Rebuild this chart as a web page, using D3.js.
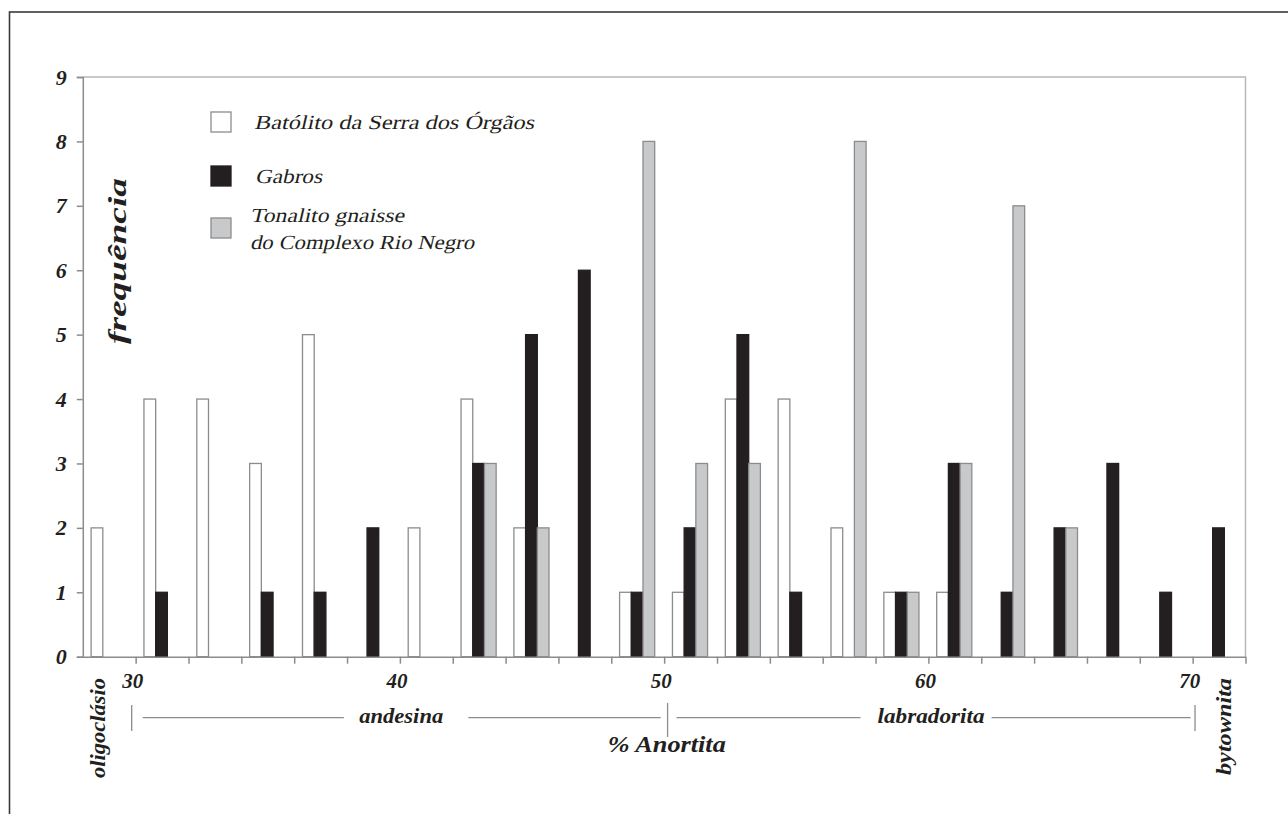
<!DOCTYPE html>
<html lang="pt">
<head>
<meta charset="utf-8">
<title>Frequência × % Anortita</title>
<script src="https://cdn.jsdelivr.net/npm/d3@7"></script>
<style>
  html, body { margin: 0; padding: 0; background: #fff; }
  svg { display: block; }
  text { font-family: "Liberation Serif", "DejaVu Serif", serif; fill: #231f20; }
</style>
</head>
<body>
<div id="chart"></div>
<script>
// Bin centres (% anortita, bins 2% wide)
const binCenters = [29, 31, 33, 35, 37, 39, 41, 43, 45, 47, 49, 51, 53, 55, 57, 59, 61, 63, 65, 67, 69, 71];

// Frequencies per series, one value per bin
const batolito  = [2, 4, 4, 3, 5, 0, 2, 4, 2, 0, 1, 1, 4, 4, 2, 1, 1, 0, 0, 0, 0, 0];
const gabros    = [0, 1, 0, 1, 1, 2, 0, 3, 5, 6, 1, 2, 5, 1, 0, 1, 3, 1, 2, 3, 1, 2];
const tonalito  = [0, 0, 0, 0, 0, 0, 0, 3, 2, 0, 8, 3, 3, 0, 8, 1, 3, 7, 2, 0, 0, 0];

const seriesKeys   = ['batolito', 'gabros', 'tonalito'];
const seriesLabels = [['Batólito da Serra dos Órgãos'], ['Gabros'], ['Tonalito gnaisse', 'do Complexo Rio Negro']];

// Axis ticks
const yTicks      = [0, 1, 2, 3, 4, 5, 6, 7, 8, 9];
const xTicks      = [30, 32, 34, 36, 38, 40, 42, 44, 46, 48, 50, 52, 54, 56, 58, 60, 62, 64, 66, 68, 70, 72];
const xTickLabels = [30, 40, 50, 60, 70];

// Plagioclase ranges under the axis
const rangeMarks    = [29.85, 50.13, 70.09];
const rangeSegments = [[30.27, 37.88], [42.59, 49.87], [50.47, 57.43], [62.39, 69.92]];
const rangeNames    = [{ name: 'andesina', at: 40.05 }, { name: 'labradorita', at: 60.1 }];

const config = {
  width: 1288,
  height: 814,
  xRange: [82.8, 1245.5],
  yRange: [656.7, 77],
  barOffset: 8.3,
  barWidth: 11.7,
  axisColor: '#8c8c8c',
  colors: { batolito: '#ffffff', gabros: '#231f20', tonalito: '#c8c9cb' },
  strokes: { batolito: '#8c8c8c', gabros: '#231f20', tonalito: '#8c8c8c' },
  // measured widths of the legend lines in the reference
  legendWidths: [[280], [67], [154, 224]]
};

const values = { batolito, gabros, tonalito };

const svg = d3.select('#chart')
  .append('svg')
  .attr('width', config.width)
  .attr('height', config.height);

// Outer frame (runs off the right and bottom edges)
svg.append('rect')
  .attr('x', 9.5)
  .attr('y', 12)
  .attr('width', 1400)
  .attr('height', 1000)
  .attr('fill', 'none')
  .attr('stroke', '#3a3a3a')
  .attr('stroke-width', 1.6);

// Scales
const x = d3.scaleLinear().domain([28, 72]).range(config.xRange);
const y = d3.scaleLinear().domain([0, 9]).range(config.yRange);

// Plot frame: top and right edges
svg.append('path')
  .attr('d', `M${x(28)},${y(9)}H${x(72)}V${y(0)}`)
  .attr('fill', 'none')
  .attr('stroke', '#b8b8b8')
  .attr('stroke-width', 1.5);

// Bars
const rows = binCenters.map((c, i) => ({
  center: c,
  values: seriesKeys.map(k => ({ key: k, value: values[k][i] }))
}));

const groups = svg.append('g')
  .selectAll('g.bin')
  .data(rows)
  .join('g')
  .attr('class', 'bin');

groups.each(function(d) {
  const start = x(d.center - 1) + config.barOffset;
  const band = d3.scaleBand()
    .domain(seriesKeys)
    .range([start, start + config.barWidth * seriesKeys.length]);

  d3.select(this).selectAll('rect')
    .data(d.values.filter(v => v.value > 0))
    .join('rect')
    .attr('x', v => band(v.key))
    .attr('y', v => y(v.value))
    .attr('width', band.bandwidth())
    .attr('height', v => y(0) - y(v.value))
    .attr('fill', v => config.colors[v.key])
    .attr('stroke', v => config.strokes[v.key])
    .attr('stroke-width', 1.3);
});

// Y axis
const yAxis = svg.append('g')
  .attr('transform', `translate(${x(28)},0)`)
  .call(d3.axisLeft(y).tickValues(yTicks).tickSize(6).tickPadding(10).tickFormat(d3.format('d')));

yAxis.select('.domain').attr('stroke', config.axisColor).attr('stroke-width', 1.5);
yAxis.selectAll('.tick line').attr('stroke', config.axisColor).attr('stroke-width', 1.5);
yAxis.selectAll('.tick text')
  .attr('font-size', 22)
  .attr('font-weight', 'bold')
  .attr('font-style', 'italic')
  .attr('fill', '#231f20')
  .attr('font-family', '"Liberation Serif", serif');

// X axis
const xAxis = svg.append('g')
  .attr('transform', `translate(0,${y(0)})`)
  .call(d3.axisBottom(x).tickValues(xTicks).tickSize(7).tickSizeOuter(0).tickFormat(''));

xAxis.select('.domain').attr('stroke', config.axisColor).attr('stroke-width', 1.5);
xAxis.selectAll('.tick line').attr('stroke', config.axisColor).attr('stroke-width', 1.5);

svg.append('g')
  .selectAll('text')
  .data(xTickLabels)
  .join('text')
  .attr('x', d => x(d) - 3)
  .attr('y', 687.5)
  .attr('text-anchor', 'middle')
  .attr('font-size', 21)
  .attr('font-weight', 'bold')
  .attr('font-style', 'italic')
  .text(d => d);

// Helper for bold italic labels stretched to the reference width
function label(sel, size, len) {
  return sel
    .attr('text-anchor', 'middle')
    .attr('font-size', size)
    .attr('font-weight', 'bold')
    .attr('font-style', 'italic')
    .attr('textLength', len)
    .attr('lengthAdjust', 'spacingAndGlyphs');
}

// Y label
svg.append('text')
  .attr('transform', 'translate(126,261) rotate(-90)')
  .call(label, 25, 166)
  .text('frequência');

// Mineral ranges below the axis
const rangeY = 717.7;

svg.append('g')
  .selectAll('line')
  .data(rangeSegments)
  .join('line')
  .attr('x1', d => x(d[0]))
  .attr('x2', d => x(d[1]))
  .attr('y1', rangeY)
  .attr('y2', rangeY)
  .attr('stroke', config.axisColor)
  .attr('stroke-width', 1.3);

svg.append('g')
  .selectAll('line')
  .data(rangeMarks)
  .join('line')
  .attr('x1', d => x(d))
  .attr('x2', d => x(d))
  .attr('y1', (d, i) => i === 1 ? 703 : 705)
  .attr('y2', (d, i) => i === 1 ? 737 : 731)
  .attr('stroke', config.axisColor)
  .attr('stroke-width', 1.3);

svg.append('g')
  .selectAll('text')
  .data(rangeNames)
  .join('text')
  .attr('x', d => x(d.at))
  .attr('y', 723)
  .call(label, 22, d => d.name === 'andesina' ? 84 : 107)
  .text(d => d.name);

svg.append('text')
  .attr('x', x(50.1))
  .attr('y', 752)
  .call(label, 24, 118)
  .text('% Anortita');

// End members, written vertically
svg.append('text')
  .attr('transform', 'translate(105,728) rotate(-90)')
  .call(label, 21, 100)
  .text('oligoclásio');

svg.append('text')
  .attr('transform', 'translate(1231,726.5) rotate(-90)')
  .call(label, 22, 97)
  .text('bytownita');

// Legend
const legendY = [112, 166, 218];

const legend = svg.append('g')
  .selectAll('g.legend')
  .data(seriesKeys)
  .join('g')
  .attr('class', 'legend')
  .attr('transform', (d, i) => `translate(211,${legendY[i]})`);

legend.append('rect')
  .attr('width', 20)
  .attr('height', 20)
  .attr('fill', d => config.colors[d])
  .attr('stroke', d => config.strokes[d])
  .attr('stroke-width', 1.3);

// regular italic face is not installed, so slant the upright serif instead
legend.each(function(d, i) {
  const lines = seriesLabels[i];
  const baseline = lines.length > 1 ? 4 : 17;
  const xText = i === 0 ? 43 : i === 1 ? 44 : 39;
  d3.select(this).selectAll('g.line')
    .data(lines)
    .join('g')
    .attr('class', 'line')
    .attr('transform', (t, j) => `translate(${xText},${baseline + j * 27}) skewX(-13)`)
    .append('text')
    .attr('font-size', 20)
    .attr('font-family', '"Liberation Serif", serif')
    .attr('textLength', (t, j) => config.legendWidths[i][j])
    .attr('lengthAdjust', 'spacingAndGlyphs')
    .text(t => t);
});
</script>
</body>
</html>
